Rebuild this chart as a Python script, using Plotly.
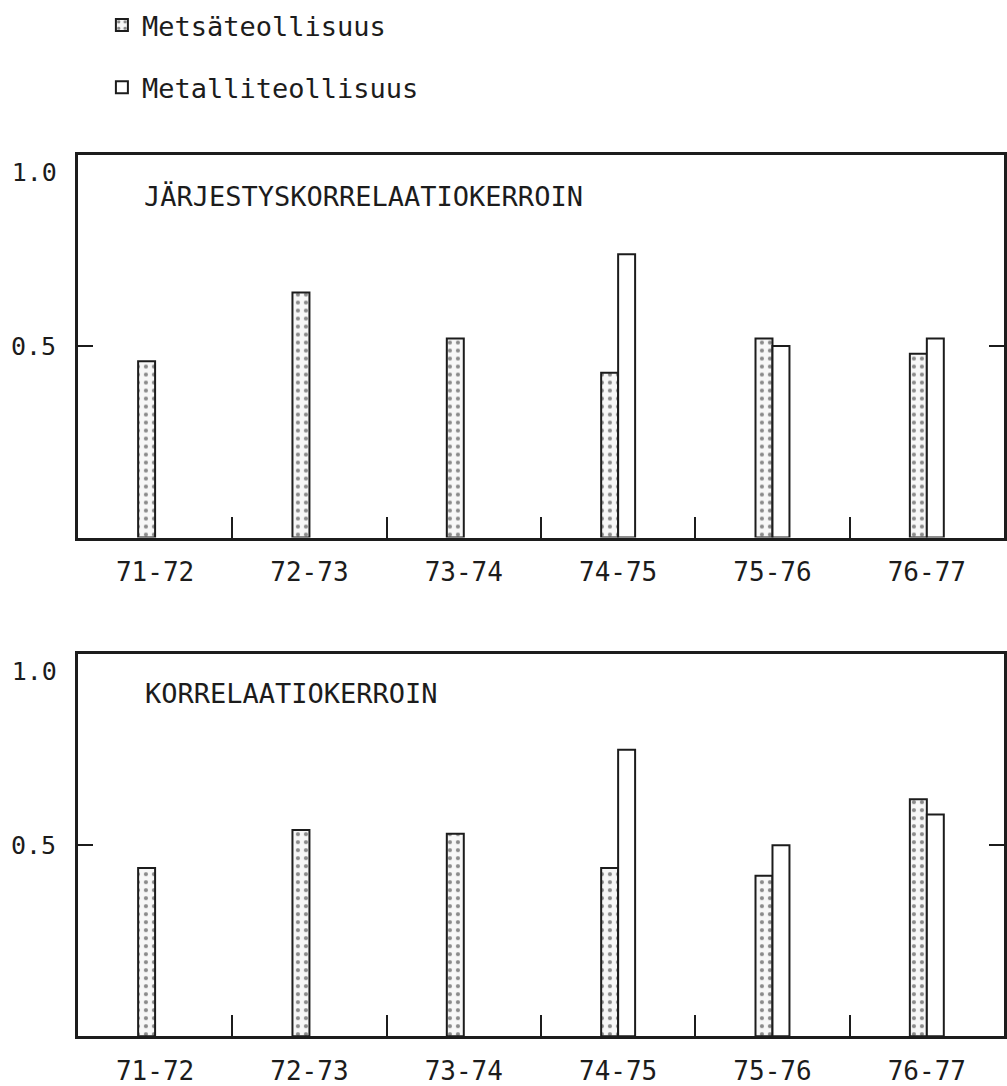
import plotly.graph_objects as go

categories = ["71-72", "72-73", "73-74", "74-75", "75-76", "76-77"]
series_names = ["Metsäteollisuus", "Metalliteollisuus"]
# Järjestyskorrelaatiokerroin (rank correlation)
rank_metsa = [0.46, 0.64, 0.52, 0.43, 0.52, 0.48]
rank_metalli = [None, None, None, 0.74, 0.50, 0.52]
# Korrelaatiokerroin (correlation)
corr_metsa = [0.44, 0.54, 0.53, 0.44, 0.42, 0.62]
corr_metalli = [None, None, None, 0.75, 0.50, 0.58]
panel_titles = ["JÄRJESTYSKORRELAATIOKERROIN", "KORRELAATIOKERROIN"]
y_tick_vals = [0.5]
y_tick_text = ["0.5"]
y_top_val = [1.0]
y_top_text = ["1.0"]

FONT = "DejaVu Sans Mono"
INK = "#1c1c1c"
W, H = 1007, 1086


def px(x):
    return x / W


def py(y):
    return 1 - y / H


fig = go.Figure()

panels = [
    (rank_metsa, rank_metalli, "x", "y", True),
    (corr_metsa, corr_metalli, "x2", "y2", False),
]
for metsa, metalli, xa, ya, show in panels:
    fig.add_trace(go.Bar(
        x=categories, y=metsa, name=series_names[0], xaxis=xa, yaxis=ya,
        showlegend=show, legendgroup="a",
        marker=dict(color="white", line=dict(color=INK, width=2),
                    pattern=dict(shape=".", fgcolor=INK, bgcolor="#f7f7f7",
                                 size=8, solidity=0.22)),
    ))
    fig.add_trace(go.Bar(
        x=categories, y=metalli, name=series_names[1], xaxis=xa, yaxis=ya,
        showlegend=show, legendgroup="b",
        marker=dict(color="white", line=dict(color=INK, width=2)),
    ))

xdom = [px(78), px(1005)]
ydom_top = [py(539), py(155)]
ydom_bot = [py(1039), py(656)]

xaxis_common = dict(
    type="category", range=[-0.5, 5.5], tickson="boundaries",
    ticks="inside", ticklen=21, tickwidth=1.5, tickcolor=INK,
    showline=True, linecolor=INK, linewidth=2.5, mirror=True,
    showgrid=False, zeroline=False, ticklabelstandoff=10,
    tickfont=dict(family=FONT, size=26, color=INK),
    domain=xdom,
)
yaxis_common = dict(
    range=[0, 1.0], tickmode="array", tickvals=y_tick_vals, ticktext=y_tick_text,
    ticks="inside", ticklen=15, tickwidth=1.5, tickcolor=INK,
    showline=True, linecolor=INK, linewidth=2.5, mirror="ticks",
    showgrid=False, zeroline=False, ticklabelstandoff=14,
    tickfont=dict(family=FONT, size=25, color=INK),
)
ytop_common = dict(
    range=[0, 1.0], tickmode="array", tickvals=y_top_val, ticktext=y_top_text,
    ticks="", showline=False, showgrid=False, zeroline=False,
    ticklabelposition="outside bottom", ticklabelstandoff=20,
    tickfont=dict(family=FONT, size=25, color=INK),
)

fig.update_layout(
    width=W, height=H,
    margin=dict(l=0, r=0, t=0, b=0),
    paper_bgcolor="white", plot_bgcolor="white",
    barmode="group", bargap=0.78, bargroupgap=0,
    xaxis=dict(**xaxis_common, anchor="y"),
    yaxis=dict(**yaxis_common, domain=ydom_top, anchor="x"),
    xaxis2=dict(**xaxis_common, anchor="y2"),
    yaxis2=dict(**yaxis_common, domain=ydom_bot, anchor="x2"),
    yaxis3=dict(**ytop_common, overlaying="y", anchor="x"),
    yaxis4=dict(**ytop_common, overlaying="y2", anchor="x2"),
    showlegend=True,
    legend=dict(
        x=px(102), y=py(1), xanchor="left", yanchor="top",
        font=dict(family=FONT, size=27, color=INK),
        tracegroupgap=24, bgcolor="rgba(0,0,0,0)",
    ),
    annotations=[
        dict(text=panel_titles[0], xref="paper", yref="paper",
             x=px(142), y=py(197), xanchor="left", yanchor="middle",
             showarrow=False, font=dict(family=FONT, size=27, color=INK)),
        dict(text=panel_titles[1], xref="paper", yref="paper",
             x=px(143), y=py(695), xanchor="left", yanchor="middle",
             showarrow=False, font=dict(family=FONT, size=27, color=INK)),
    ],
)
# invisible helper traces so the overlay axes (1.0 labels) are rendered
fig.add_trace(go.Scatter(x=[categories[0]], y=[None], xaxis="x", yaxis="y3",
                         showlegend=False, hoverinfo="skip"))
fig.add_trace(go.Scatter(x=[categories[0]], y=[None], xaxis="x2", yaxis="y4",
                         showlegend=False, hoverinfo="skip"))

fig.write_html(
    "out.html",
    config={"displayModeBar": False},
    post_script="document.body.style.margin='0';document.body.style.overflow='hidden';",
)
